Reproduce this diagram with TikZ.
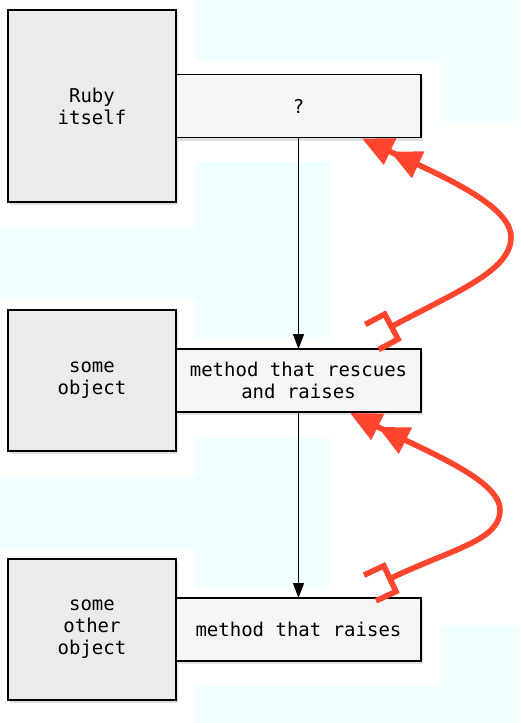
\documentclass[tikz,border=0pt]{standalone}
\usepackage{xcolor}
\usepackage{fontspec}
\setmonofont{DejaVu Sans Mono}
\usepackage{tikz}
\usetikzlibrary{positioning,arrows.meta,shadows}

\definecolor{objgray}{RGB}{235,235,235}
\definecolor{methgray}{RGB}{246,246,246}
\definecolor{raisered}{RGB}{255,69,45}
\definecolor{tilecyan}{RGB}{240,255,255}

\begin{document}
\begin{tikzpicture}[
				x=0.5pt, y=-0.5pt,
				objnode/.style={rectangle, draw=black, fill=objgray, line width=0.6pt, minimum width=84pt, inner sep=2pt, outer sep=0pt, align=center, font=\ttfamily\fontsize{9.5}{11}\selectfont, drop shadow={shadow xshift=0.8pt, shadow yshift=-1.5pt, opacity=0.12, fill=black}},
				methnode/.style={rectangle, draw=black, fill=methgray, line width=0.6pt, minimum width=122.5pt, minimum height=31.5pt, inner sep=2pt, outer sep=0pt, align=center, font=\ttfamily\fontsize{9.5}{11}\selectfont, drop shadow={shadow xshift=0.8pt, shadow yshift=-1.5pt, opacity=0.12, fill=black}},
				callline/.style={-{Triangle[length=7.5pt, width=5.5pt]}, line width=0.6pt},
				raiseline/.style={{Bracket[reversed, width=17pt, length=11pt]}-{Triangle[length=15.5pt, width=14pt]Triangle[length=15.5pt, width=14pt]}, draw=raisered, line width=2.8pt},
				node distance = 54pt,
				]
				\useasboundingbox (0,0) rectangle (520,723);
				%Tiles
				\fill[tilecyan] (195,0) rectangle (520,61);
				\fill[tilecyan] (440,61) rectangle (520,123);
				\fill[tilecyan] (195,162) rectangle (330,339);
				\fill[tilecyan] (0,228) rectangle (195,299);
				\fill[tilecyan] (195,438) rectangle (330,588);
				\fill[tilecyan] (0,477) rectangle (195,549);
				\fill[tilecyan] (440,625) rectangle (520,686);
				\fill[tilecyan] (195,686) rectangle (520,723);
				
				%Nodes
				\node[objnode, minimum height=96pt, anchor=north west](ruby) at (8,10) {Ruby\\itself};
				\node[methnode](unknown)[right=0pt of ruby]{?};
				\node[objnode, minimum height=70.5pt](someobj)[below=of ruby]{some\\object};
				\node[methnode](rescues)[right=0pt of someobj]{method that rescues\\and raises};
				\node[objnode, minimum height=70.5pt](otherobj)[below=of someobj]{some\\other\\object};
				\node[methnode](raises)[right=0pt of otherobj]{method that raises};
				
				\coordinate (tail1) at ([xshift=-24.5pt, yshift=6pt]rescues.north east);
				\coordinate (hit1) at ([xshift=-29.5pt, yshift=-0.5pt]unknown.south east);
				\coordinate (tail2) at ([xshift=-25.5pt, yshift=5pt]raises.north east);
				\coordinate (hit2) at ([xshift=-35.5pt, yshift=-0.5pt]rescues.south east);
				
				%Lines
				\draw[callline] (unknown.south) -- (rescues.north);
				\draw[callline] (rescues.south) -- (raises.north);
				
				\draw[raiseline] (tail1) .. controls (460,290) and (511,270) .. (511,237)
					.. controls (511,205) and (440,175) .. (hit1);
				\draw[raiseline] (tail2) .. controls (455,548) and (500,540) .. (500,510)
					.. controls (500,480) and (428,452) .. (hit2);
				
			\end{tikzpicture}
\end{document}
